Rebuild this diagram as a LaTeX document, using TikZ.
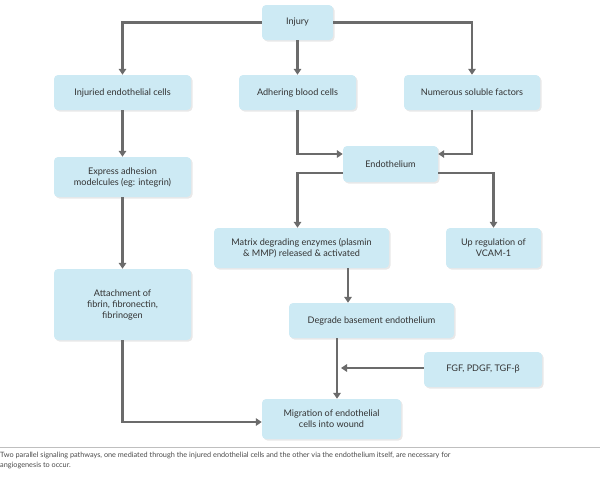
\documentclass[tikz,border=0pt]{standalone}
\usepackage{fontspec}
\setmainfont{Lato}
\usetikzlibrary{shadows,arrows.meta,calc}
\definecolor{boxblue}{HTML}{CDEAF4}
\definecolor{linegray}{HTML}{6B6B6B}
\definecolor{txt}{HTML}{333333}
\definecolor{captxt}{HTML}{4A4A4A}
\begin{document}
\begin{tikzpicture}[x=1pt,y=-1pt,
 box/.style={fill=boxblue, rounded corners=4pt,
   drop shadow={opacity=0.18, shadow xshift=1.5pt, shadow yshift=-1.5pt},
   text=txt, font=\fontsize{9.1}{11}\selectfont, align=center, inner sep=0pt},
 conn/.style={draw=linegray, line width=2.2pt, -{Triangle[length=6pt,width=7.5pt]}}]
\useasboundingbox (0,0) rectangle (600,490);

\node[box, minimum width=71pt, minimum height=35pt] (inj) at (297.5,22.5) {Injury};
\node[box, minimum width=137pt, minimum height=35pt] (cells) at (122.5,92.5) {Injuried endothelial cells};
\node[box, minimum width=117pt, minimum height=35pt] (adh) at (297.5,92.5) {Adhering blood cells};
\node[box, minimum width=136pt, minimum height=35pt] (sol) at (472,92.5) {Numerous soluble factors};
\node[box, minimum width=137pt, minimum height=40pt] (expr) at (122.5,177) {Express adhesion\\modelcules (eg: integrin)};
\node[box, minimum width=137pt, minimum height=71pt] (att) at (122.5,304.5) {Attachment of\\fibrin, fibronectin,\\fibrinogen};
\node[box, minimum width=95pt, minimum height=36pt] (endo) at (390.5,164) {Endothelium};
\node[box, minimum width=175pt, minimum height=40pt] (mat) at (301.5,248) {Matrix degrading enzymes (plasmin\\\& MMP) released \& activated};
\node[box, minimum width=95pt, minimum height=40pt] (vcam) at (493.5,248) {Up regulation of\\VCAM-1};
\node[box, minimum width=165pt, minimum height=35pt] (deg) at (371.5,320.5) {Degrade basement endothelium};
\node[box, minimum width=118pt, minimum height=35pt] (fgf) at (483,369.5) {FGF, PDGF, TGF-β};
\node[box, minimum width=139pt, minimum height=40pt] (mig) at (331.5,419) {Migration of endothelial\\cells into wound};

\draw[conn] (inj.west) -| (cells.north);
\draw[conn] (inj.south) -- (adh.north);
\draw[conn] (inj.east) -| (sol.north);
\draw[conn] (cells.south) -- (expr.north);
\draw[conn] (expr.south) -- (att.north);
\draw[conn] (att.south) |- ([yshift=-3pt]mig.west);
\draw[conn] (adh.south) |- ([yshift=10pt]endo.west);
\draw[conn] (sol.south) |- ([yshift=10pt]endo.east);
\draw[conn] ([yshift=-9pt]endo.west) -| ([xshift=-4pt]mat.north);
\draw[conn] ([yshift=-9pt]endo.east) -| (vcam.north);
\coordinate (m1) at ([xshift=46.5pt]mat.south);
\draw[conn] (m1) -- (m1 |- deg.north);
\coordinate (d1) at ([xshift=-34.5pt]deg.south);
\draw[conn] (d1) -- (d1 |- mig.north);
\coordinate (f1) at ($(d1 |- fgf.west)+(4,0)$);
\draw[conn] ([yshift=1.5pt]fgf.west) -- ([yshift=1.5pt]f1);

\draw[black!25, line width=0.8pt] (0,447) -- (600,447);
\node[anchor=north west, inner sep=0pt, align=left, text=captxt,
  font=\fontsize{7.3}{9.5}\selectfont] (cap) at (0,452)
  {Two parallel signaling pathways, one mediated through the injured endothelial cells and the other via the endothelium itself, are necessary for\\angiogenesis to occur.};
\end{tikzpicture}
\end{document}
